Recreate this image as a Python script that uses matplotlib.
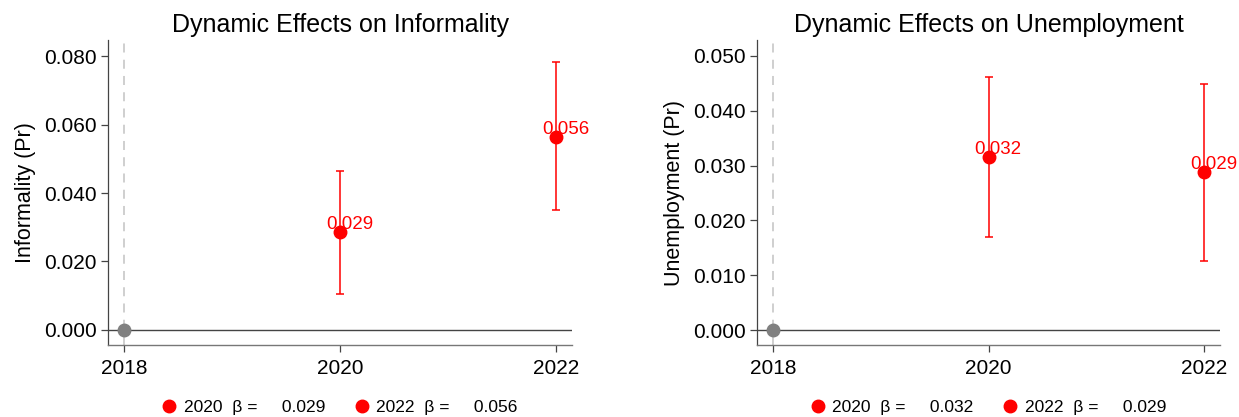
import matplotlib
matplotlib.use("Agg")
import matplotlib.pyplot as plt
from matplotlib.lines import Line2D

plt.rcParams['font.family'] = ['Liberation Sans', 'DejaVu Sans']

years = [2020, 2022]
base_year = 2018

inf_coef = [0.0286, 0.0563]
inf_lo = [0.0105, 0.0350]
inf_hi = [0.0465, 0.0782]
inf_lbl = ["0.029", "0.056"]

une_coef = [0.0315, 0.0288]
une_lo = [0.0169, 0.0127]
une_hi = [0.0461, 0.0448]
une_lbl = ["0.032", "0.029"]

panels = [
    dict(title="Dynamic Effects on Informality", ylabel="Informality (Pr)",
         coef=inf_coef, lo=inf_lo, hi=inf_hi, lbl=inf_lbl,
         yticks=[0.0, 0.02, 0.04, 0.06, 0.08], ylim=(-0.0044, 0.0847)),
    dict(title="Dynamic Effects on Unemployment", ylabel="Unemployment (Pr)",
         coef=une_coef, lo=une_lo, hi=une_hi, lbl=une_lbl,
         yticks=[0.0, 0.01, 0.02, 0.03, 0.04, 0.05], ylim=(-0.0027, 0.0529)),
]

fig = plt.figure(figsize=(12.39, 4.17), dpi=100)
rects = [[108/1239, 1-345/417, (572-108)/1239, (345-40)/417],
         [757/1239, 1-345/417, (1220-757)/1239, (345-40)/417]]

for rect, p in zip(rects, panels):
    ax = fig.add_axes(rect)
    ax.set_xlim(2017.85, 2022.15)
    ax.set_ylim(*p['ylim'])
    ax.axvline(base_year, color='#cccccc', lw=1.3, ls=(0, (5, 4)), zorder=1)
    ax.axhline(0, color='#444444', lw=1.0, zorder=1)
    ax.plot([base_year], [0], 'o', color='#808080', ms=9, zorder=3)
    for x, c, lo, hi, t in zip(years, p['coef'], p['lo'], p['hi'], p['lbl']):
        ax.errorbar([x], [c], yerr=[[c-lo], [hi-c]], fmt='o', color='red',
                    ms=9, elinewidth=1.1, capsize=2.7, capthick=1.1, zorder=4)
        ax.annotate(t, (x, c), xytext=(7, 5.5), textcoords='offset points',
                    ha='center', va='center', color='red', fontsize=13.5,
                    zorder=5, annotation_clip=False)
    ax.set_xticks([2018, 2020, 2022])
    ax.set_yticks(p['yticks'])
    ax.set_yticklabels([f"{v:.3f}" for v in p['yticks']])
    ax.tick_params(labelsize=15, length=5, width=0.9, color='#444444')
    ax.tick_params(axis='x', pad=5)
    ax.tick_params(axis='y', pad=3)
    for s in ['top', 'right']:
        ax.spines[s].set_visible(False)
    ax.spines['left'].set_color('#444444')
    ax.spines['bottom'].set_color('#777777')
    ax.spines['left'].set_linewidth(0.9)
    ax.spines['bottom'].set_linewidth(1.0)
    ax.set_title(p['title'], fontsize=18, pad=6)
    ax.set_ylabel(p['ylabel'], fontsize=15.5, labelpad=6)
    handles = [Line2D([], [], marker='o', color='red', ls='none', ms=9) for _ in years]
    labels = [f"{y}  β =     {l}" for y, l in zip(years, p['lbl'])]
    ax.legend(handles, labels, loc='center', bbox_to_anchor=(0.5, -0.205),
              ncol=2, frameon=False, fontsize=12.5, handlelength=0.8,
              handletextpad=0.45, columnspacing=1.7)

fig.savefig("out.png", dpi=100)
